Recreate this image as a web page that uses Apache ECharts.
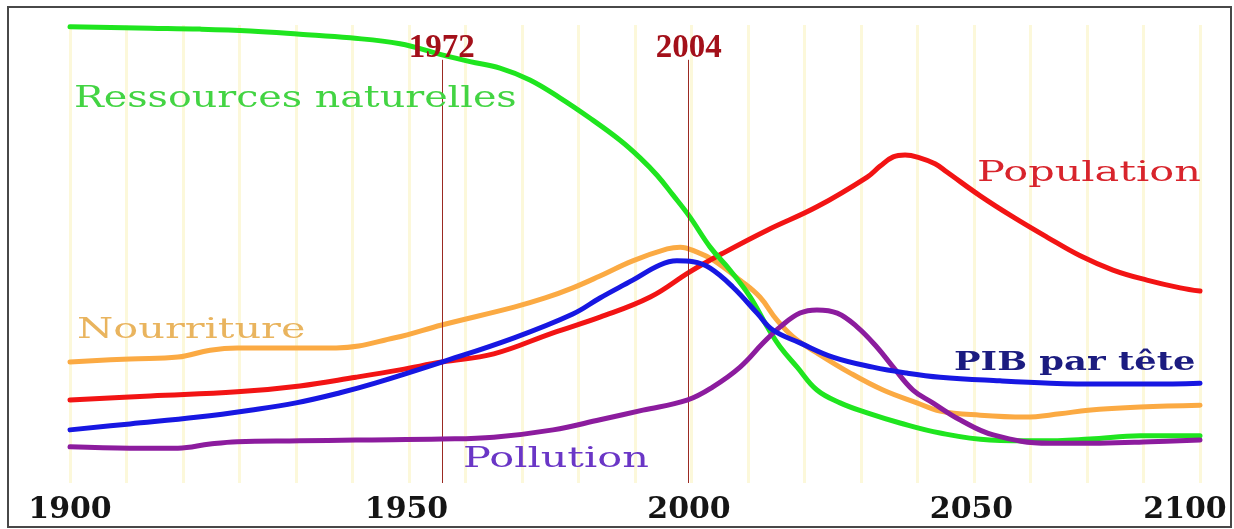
<!DOCTYPE html>
<html>
<head>
<meta charset="utf-8">
<script src="https://cdn.jsdelivr.net/npm/echarts@6/dist/echarts.min.js"></script>
<style>
html,body{margin:0;padding:0;background:#fff;}
#chart{width:1234px;height:529px;}
</style>
</head>
<body>
<div id="chart"></div>
<script>
// ---- data ----
const ressourcesYears = [1900, 1914.2, 1923, 1931.9, 1940.7, 1949.6, 1958.4, 1965.5, 1970.8, 1976.1, 1981.4, 1986.7, 1992, 1997.3, 2000.9, 2003.9, 2006.7, 2009.7, 2013.3, 2016.8, 2020.4, 2023.4, 2025.7, 2028.7, 2032.2, 2036.3, 2041.1, 2046.9, 2054, 2062.8, 2071.7, 2080.5, 2089.4, 2100];
const ressourcesValues = [99.6, 99.3, 99.1, 98.7, 98.0, 97.2, 95.9, 93.6, 92.0, 90.6, 88.0, 84.1, 79.7, 74.9, 71.0, 67.2, 62.9, 58.1, 51.5, 46.5, 40.6, 34.1, 29.7, 25.3, 20.3, 17.5, 15.3, 13.1, 10.9, 9.4, 9.2, 9.6, 10.3, 10.3];

const populationYears = [1900, 1914.2, 1929.6, 1940.7, 1950.6, 1958.4, 1965.8, 1975.0, 1985.5, 1993.8, 2002.7, 2009.7, 2015.6, 2023.4, 2032.2, 2041.1, 2043.4, 2045.7, 2047.8, 2050.4, 2053.1, 2055.2, 2061.1, 2066.9, 2072.9, 2078.8, 2084.6, 2090.6, 2096.5, 2100];
const populationValues = [18.1, 19.0, 19.9, 21.2, 23.1, 24.7, 26.4, 28.2, 32.8, 36.2, 40.6, 46.1, 50.2, 55.2, 60.3, 66.8, 69.2, 71.2, 71.6, 71.0, 69.7, 67.9, 62.7, 58.1, 53.7, 49.6, 46.5, 44.3, 42.6, 41.9];

const nourritureYears = [1900, 1910.6, 1919.1, 1924.8, 1929.6, 1938.9, 1947.1, 1957.5, 1965.8, 1978.6, 1984.1, 1989.0, 1993.8, 1999.6, 2005.7, 2008.0, 2011.0, 2013.8, 2018.6, 2022.1, 2025.1, 2028.0, 2032.2, 2038.1, 2043.9, 2049.9, 2054.0, 2061.1, 2069.0, 2075.2, 2080.2, 2089.4, 2100];
const nourritureValues = [26.4, 27.1, 27.5, 29.0, 29.5, 29.5, 29.5, 31.7, 34.5, 38.4, 40.4, 42.6, 45.2, 48.5, 51.1, 51.5, 50.4, 48.7, 44.3, 40.6, 35.6, 31.9, 28.4, 24.0, 20.3, 17.5, 15.7, 14.8, 14.4, 15.1, 15.9, 16.6, 17.0];

const pibYears = [1900, 1910.6, 1922.7, 1931.9, 1940.0, 1947.8, 1954.0, 1965.8, 1978.6, 1989.0, 1993.8, 1999.6, 2004.4, 2007.4, 2010.3, 2013.3, 2017.3, 2021.6, 2024.4, 2029.2, 2035.0, 2042.1, 2048.1, 2054.0, 2064.6, 2073.5, 2082.3, 2091.2, 2100];
const pibValues = [11.6, 12.9, 14.4, 15.9, 17.5, 19.7, 21.8, 26.4, 31.7, 36.9, 40.4, 44.3, 47.6, 48.5, 48.3, 46.9, 42.8, 37.1, 33.4, 30.6, 27.5, 25.3, 24.0, 23.1, 22.3, 21.8, 21.6, 21.6, 21.8];

const pollutionYears = [1900, 1910.6, 1919.1, 1924.8, 1929.6, 1940.7, 1950.6, 1965.8, 1975.0, 1985.5, 1993.8, 2001.4, 2009.2, 2013.8, 2018.6, 2022.7, 2025.7, 2029.2, 2032.2, 2035.8, 2039.3, 2042.8, 2045.7, 2049.2, 2052.7, 2057.5, 2063.4, 2073.3, 2082.3, 2091.2, 2100];
const pollutionValues = [7.9, 7.6, 7.6, 8.5, 9.0, 9.2, 9.4, 9.6, 10.0, 11.6, 13.8, 15.9, 18.1, 21.0, 25.3, 30.6, 34.1, 37.1, 37.8, 37.1, 34.1, 29.7, 25.3, 20.3, 17.5, 13.8, 10.5, 8.7, 8.7, 9.0, 9.4];

// vertical reference lines (position as drawn in the picture, label as printed)
const markerLabels = ['1972', '2004'];
const markerYears = [1965.8, 2009.5];
const markerTop = 92.4;

const seriesNames = ['Ressources naturelles', 'Population', 'Nourriture', 'PIB par tête', 'Pollution'];

// x-axis tick labels
const xMin = 1900, xMax = 2100, xStep = 50;

// ---- chart ----
function zip(xs, ys) { return xs.map((x, i) => [x, ys[i]]); }

const chart = echarts.init(document.getElementById('chart'), null, { renderer: 'canvas' });

const stripe = { color: '#fcf8da', width: 3 };
const lineW = 5;

function mkSeries(name, xs, ys, color, z) {
  return {
    type: 'line', name: name, data: zip(xs, ys), smooth: 0.4, symbol: 'none',
    lineStyle: { color: color, width: lineW, cap: 'round', join: 'round' },
    z: z, silent: true, animation: false
  };
}

const series = [
  mkSeries(seriesNames[2], nourritureYears, nourritureValues, '#fbaa43', 2),
  mkSeries(seriesNames[1], populationYears, populationValues, '#f21414', 3),
  mkSeries(seriesNames[0], ressourcesYears, ressourcesValues, '#1fe51f', 4),
  mkSeries(seriesNames[4], pollutionYears, pollutionValues, '#8c1c9e', 5),
  mkSeries(seriesNames[3], pibYears, pibValues, '#1717e2', 6)
];

series[0].markLine = {
  silent: true, symbol: 'none', animation: false,
  lineStyle: { color: '#9b2a22', width: 1, type: 'solid' },
  label: {
    show: true, position: 'end', distance: -5,
    formatter: p => p.name,
    fontFamily: '"Liberation Serif"', fontWeight: 'bold', fontSize: 33, color: '#a3101a'
  },
  data: markerYears.map((y, i) => [
    { coord: [y, 0], name: markerLabels[i] },
    { coord: [y, markerTop] }
  ])
};

const tickFont = { fontFamily: '"DejaVu Serif"', fontWeight: 'bold', fontSize: 30, color: '#151515' };

const option = {
  backgroundColor: '#ffffff',
  animation: false,
  grid: { left: 70, right: 34, top: 25, bottom: 46, containLabel: false },
  xAxis: {
    type: 'value', min: xMin, max: xMax, interval: xStep,
    axisLine: { show: false }, axisTick: { show: false },
    splitLine: { show: true, lineStyle: stripe },
    minorTick: { show: false, splitNumber: 5 },
    minorSplitLine: { show: true, lineStyle: stripe },
    axisLabel: {
      margin: 12,
      fontFamily: tickFont.fontFamily, fontWeight: tickFont.fontWeight, fontSize: tickFont.fontSize, color: tickFont.color,
      formatter: function (v) {
        if (v === xMin) return '{a|' + v + '}';
        if (v === xMax) return '{z|' + v + '}';
        return '{m|' + v + '}';
      },
      rich: {
        a: Object.assign({}, tickFont),
        m: Object.assign({ padding: [0, 0, 0, 108] }, tickFont),
        z: Object.assign({ padding: [0, 30, 0, 0] }, tickFont)
      }
    }
  },
  yAxis: {
    type: 'value', min: 0, max: 100, show: false,
    splitLine: { show: false }
  },
  graphic: [
    { type: 'rect', shape: { x: 8, y: 7, width: 1223, height: 520 }, style: { fill: 'none', stroke: '#484848', lineWidth: 2 }, silent: true, z: 100 },
    { type: 'text', x: 74, y: 99, scaleX: 1.32, silent: true, z: 100,
      style: { text: seriesNames[0], font: '30px "DejaVu Serif"', fill: '#43d443', textAlign: 'left', textVerticalAlign: 'middle', align: 'left', verticalAlign: 'middle' } },
    { type: 'text', x: 977, y: 174, scaleX: 1.48, silent: true, z: 100,
      style: { text: seriesNames[1], font: '28px "DejaVu Serif"', fill: '#d8242c', textAlign: 'left', textVerticalAlign: 'middle', align: 'left', verticalAlign: 'middle' } },
    { type: 'text', x: 77, y: 331, scaleX: 1.48, silent: true, z: 100,
      style: { text: seriesNames[2], font: '28px "DejaVu Serif"', fill: '#e9b45e', textAlign: 'left', textVerticalAlign: 'middle', align: 'left', verticalAlign: 'middle' } },
    { type: 'text', x: 954, y: 363, scaleX: 1.36, silent: true, z: 100,
      style: { text: seriesNames[3], font: 'bold 26px "DejaVu Serif"', fill: '#1c1c80', textAlign: 'left', textVerticalAlign: 'middle', align: 'left', verticalAlign: 'middle' } },
    { type: 'text', x: 463, y: 460, scaleX: 1.48, silent: true, z: 100,
      style: { text: seriesNames[4], font: '28px "DejaVu Serif"', fill: '#6a36c6', textAlign: 'left', textVerticalAlign: 'middle', align: 'left', verticalAlign: 'middle' } }
  ],
  series: series
};

chart.setOption(option);
</script>
</body>
</html>
